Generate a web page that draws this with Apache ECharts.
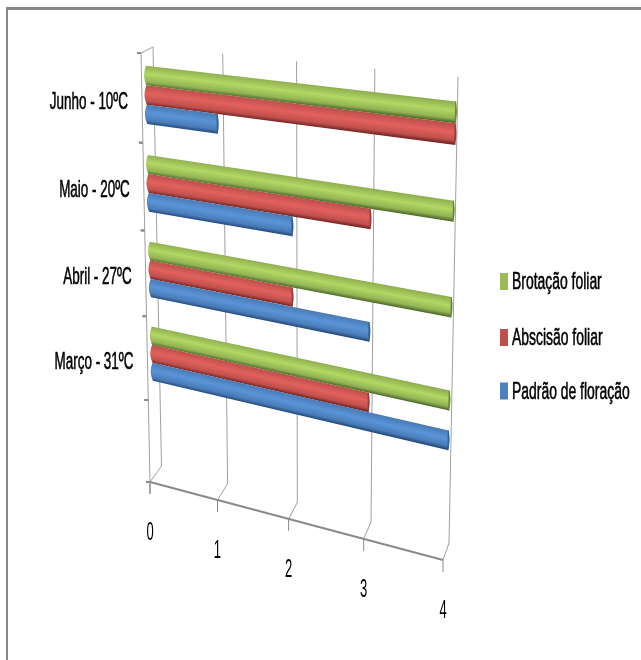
<!DOCTYPE html>
<html>
<head>
<meta charset="utf-8">
<style>html,body{margin:0;padding:0;background:#fff}#container{width:641px;height:660px}</style>
<script src="https://cdn.jsdelivr.net/npm/echarts@6/dist/echarts.min.js"></script>
</head>
<body>
<div id="container"></div>
<script>
// first category is empty in the original chart
var categories = ['', 'Março - 31ºC', 'Abril - 27ºC', 'Maio - 20ºC', 'Junho - 10ºC'];
var valueTicks = [0, 1, 2, 3, 4];
var padrao = [null, 4, 3, 2, 1];
var abscisao = [null, 3, 2, 3, 4];
var brotacao = [null, 4, 4, 4, 4];
var seriesNames = ['Padrão de floração', 'Abscisão foliar', 'Brotação foliar'];

var FONT = '"Liberation Sans Narrow","Liberation Sans",sans-serif';
var GRID_COLOR = '#a0a0a0';
var AXIS_COLOR = '#8a8a8a';

// the picture is a tilted 3d chart: three planes, corners are bl, br, tr, tl
function makePlane(c) {
	var dx1 = c[1][0] - c[2][0], dx2 = c[3][0] - c[2][0], dx3 = c[0][0] - c[1][0] + c[2][0] - c[3][0];
	var dy1 = c[1][1] - c[2][1], dy2 = c[3][1] - c[2][1], dy3 = c[0][1] - c[1][1] + c[2][1] - c[3][1];
	var den = dx1 * dy2 - dx2 * dy1;
	var g = (dx3 * dy2 - dx2 * dy3) / den;
	var h = (dx1 * dy3 - dx3 * dy1) / den;
	var a = c[1][0] - c[0][0] + g * c[1][0], b = c[3][0] - c[0][0] + h * c[3][0];
	var d = c[1][1] - c[0][1] + g * c[1][1], e = c[3][1] - c[0][1] + h * c[3][1];
	return function(u, s) {
		var w = g * u + h * s + 1;
		return [(a * u + b * s + c[0][0]) / w, (d * u + e * s + c[0][1]) / w];
	};
}
var backPlane = makePlane([[161.5, 466], [449, 543], [458, 77], [153, 47]]);
var barPlane = makePlane([[155, 476], [446, 555], [456.5, 84], [145.5, 50]]);
var frontPlane = makePlane([[150, 482], [443, 560], [452, 84], [141, 53]]);

// grid pixel -> unit square of the planes
function toUnit(params, pt) {
	var r = params.coordSys;
	return [(pt[0] - r.x) / r.width, (r.y + r.height - pt[1]) / r.height];
}

function line(points, color, width) {
	return {type: 'polyline', shape: {points: points}, style: {fill: null, stroke: color, lineWidth: width}, silent: true};
}

function label(text, x, y, size, scaleX, align, heavy) {
	return {
		type: 'text', x: x, y: y, scaleX: scaleX, silent: true,
		style: {
			text: text, x: 0, y: 0, fill: '#000', font: size + 'px ' + FONT, textAlign: align, textVerticalAlign: 'middle',
			stroke: heavy ? '#000' : null, lineWidth: heavy ? 0.6 : 0
		}
	};
}

function renderValueTick(params, api) {
	var v = api.value(0);
	var u = toUnit(params, api.coord([v, 0]))[0];
	var top = backPlane(u, 1), bot = backPlane(u, 0), front = frontPlane(u, 0);
	return {type: 'group', children: [
		line([top, bot, front], GRID_COLOR, 1),
		line([front, [front[0], front[1] + 12]], AXIS_COLOR, 1),
		label(String(v), front[0], front[1] + 50.5, 26, 0.5, 'center', false)
	]};
}

function renderCatTick(params, api) {
	var i = api.value(0);
	var rowH = api.size([0, 1])[1];
	var c = api.coord([0, i]);
	var s = toUnit(params, [c[0], c[1]])[1];
	var ds = rowH / params.coordSys.height / 2;
	var low = frontPlane(0, s - ds), mid = frontPlane(0, s), high = frontPlane(0, s + ds);
	var kids = [line([[high[0] - 4, high[1]], high], AXIS_COLOR, 2), line([[low[0] - 4, low[1]], low], AXIS_COLOR, 2), line([low, high], GRID_COLOR, 1)];
	if (categories[i]) {
		kids.push(label(categories[i], mid[0] - 14, mid[1] + 4, 24, 0.56, 'right', true));
	}
	return {type: 'group', children: kids};
}

function renderFloor(params, api) {
	var p0 = frontPlane(0, 0), p1 = frontPlane(1, 0);
	var b1 = backPlane(0, 1), f1 = frontPlane(0, 1);
	return {type: 'group', children: [
		line([p0, p1], AXIS_COLOR, 2),
		line([f1, b1], GRID_COLOR, 1),
		line([[p0[0] - 4, p0[1]], p0], AXIS_COLOR, 2),
		line([p0, [p0[0], p0[1] + 12]], AXIS_COLOR, 1)
	]};
}

// cylinder look: light band a bit above the middle, dark under side
var shades = [
	{stops: ['#4a7ab4', '#5a94d8', '#4a7cb8', '#234a7c'], cap: '#30608f'},
	{stops: ['#bd4f4c', '#e2615e', '#c0504d', '#742523'], cap: '#9a3a38'},
	{stops: ['#8fae50', '#b2d864', '#93b354', '#506a2a'], cap: '#6a8838'}
];

function makeBarRender(k) {
	var shade = shades[k];
	return function(params, api) {
		var i = api.value(1);
		var v = api.value(0);
		if (v == null || isNaN(v)) return;
		var end = toUnit(params, api.coord([v, i]));
		var rowS = api.size([0, 1])[1] / params.coordSys.height;
		var barS = rowS * 0.217;
		var sMid = end[1] + (k - 1) * barS;
		var sLo = sMid - barS / 2, sHi = sMid + barS / 2;
		var tl = barPlane(0, sHi), tr = barPlane(end[0], sHi), br = barPlane(end[0], sLo), bl = barPlane(0, sLo);
		var pts = [tl, tr, br, bl];
		var j, t;
		// rounded left end
		for (j = 1; j < 8; j++) {
			t = j / 8;
			pts.push([bl[0] + (tl[0] - bl[0]) * t - 2 * Math.sin(t * Math.PI), bl[1] + (tl[1] - bl[1]) * t]);
		}
		var cap = [tr];
		for (j = 1; j < 8; j++) {
			t = j / 8;
			cap.push([tr[0] + (br[0] - tr[0]) * t + 1 * Math.sin(t * Math.PI), tr[1] + (br[1] - tr[1]) * t]);
		}
		cap.push(br);
		cap.push([br[0] - 1, br[1]]);
		cap.push([tr[0] - 1, tr[1]]);
		// gradient across the bar, along the normal of its centre line
		var lx = (tr[0] + br[0] - tl[0] - bl[0]) / 2, ly = (tr[1] + br[1] - tl[1] - bl[1]) / 2;
		var len = Math.sqrt(lx * lx + ly * ly);
		var nx = -ly / len, ny = lx / len;
		var cx = (tl[0] + tr[0] + br[0] + bl[0]) / 4, cy = (tl[1] + tr[1] + br[1] + bl[1]) / 4;
		var half = Math.abs((tl[0] + tr[0] - bl[0] - br[0]) / 2 * nx + (tl[1] + tr[1] - bl[1] - br[1]) / 2 * ny) / 2;
		var fill = new echarts.graphic.LinearGradient(cx - nx * half, cy - ny * half, cx + nx * half, cy + ny * half, [
			{offset: 0, color: shade.stops[0]},
			{offset: 0.42, color: shade.stops[1]},
			{offset: 0.8, color: shade.stops[2]},
			{offset: 1, color: shade.stops[3]}
		], true);
		return {type: 'group', children: [
			{type: 'polygon', shape: {points: pts}, style: {fill: fill}},
			{type: 'polygon', shape: {points: cap}, style: {fill: shade.cap}}
		]};
	};
}

function seriesData(arr) {
	var out = [];
	for (var i = 0; i < arr.length; i++) out.push([arr[i] == null ? NaN : arr[i], i]);
	return out;
}

function legendGraphics() {
	var colors = ['#4f81bd', '#c0504d', '#9bbb59'];
	var ys = [391, 337.5, 281.5];
	var out = [
		{type: 'rect', shape: {x: 6, y: 7, width: 635, height: 3}, style: {fill: '#868686'}},
		{type: 'rect', shape: {x: 6, y: 7, width: 2, height: 653}, style: {fill: '#868686'}}
	];
	for (var i = 0; i < seriesNames.length; i++) {
		out.push({type: 'rect', shape: {x: 500, y: ys[i] - 8.5, width: 8, height: 17}, style: {fill: colors[i]}});
		out.push({
			type: 'text', x: 512, y: ys[i] + 1, scaleX: 0.58,
			style: {text: seriesNames[i], fill: '#000', stroke: '#000', lineWidth: 0.6, font: '24px ' + FONT, textVerticalAlign: 'middle'}
		});
	}
	return out;
}

var myChart = echarts.init(document.getElementById('container'), null, {renderer: 'canvas'});

var ticksData = [];
for (var q = 0; q < valueTicks.length; q++) ticksData.push([valueTicks[q], 0]);
var catData = [];
for (var r = 0; r < categories.length; r++) catData.push([r, r]);

var option = {
	backgroundColor: '#fff',
	animation: false,
	grid: {left: 150, top: 60, width: 300, height: 480},
	xAxis: {type: 'value', min: 0, max: 4, interval: 1, show: false},
	yAxis: {type: 'category', data: categories, show: false},
	graphic: legendGraphics(),
	series: [
		{type: 'custom', name: 'eixo', renderItem: renderValueTick, data: ticksData, encode: {x: 0, y: 1}, z: 1},
		{type: 'custom', name: 'categorias', renderItem: renderCatTick, data: catData, encode: {x: 1, y: 0}, z: 1},
		{type: 'custom', name: 'piso', renderItem: renderFloor, data: [[0, 0]], encode: {x: 0, y: 1}, z: 1},
		{type: 'custom', name: seriesNames[0], renderItem: makeBarRender(0), data: seriesData(padrao), encode: {x: 0, y: 1}, z: 4},
		{type: 'custom', name: seriesNames[1], renderItem: makeBarRender(1), data: seriesData(abscisao), encode: {x: 0, y: 1}, z: 3},
		{type: 'custom', name: seriesNames[2], renderItem: makeBarRender(2), data: seriesData(brotacao), encode: {x: 0, y: 1}, z: 5}
	]
};
myChart.setOption(option);
</script>
</body>
</html>
